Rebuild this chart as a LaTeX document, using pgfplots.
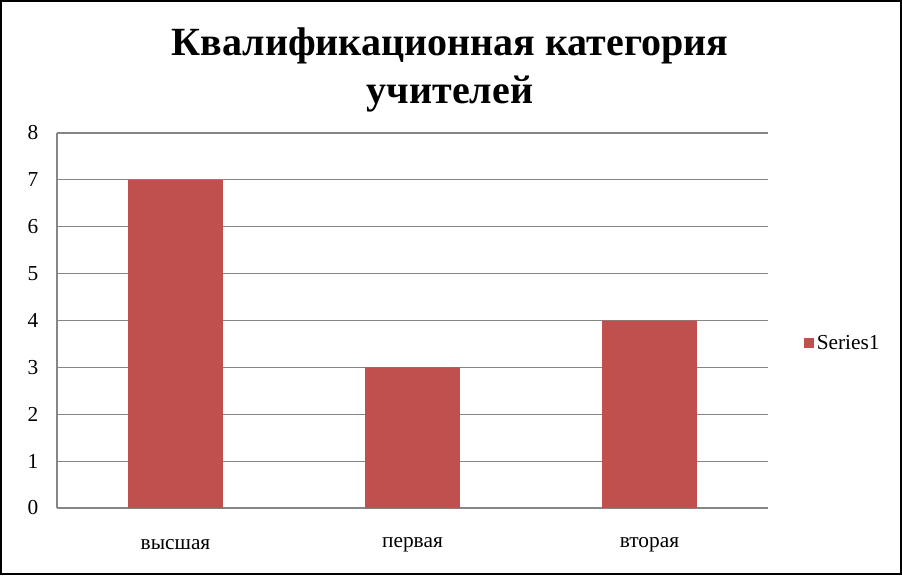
\documentclass[border=0pt]{standalone}
\usepackage{pgfplots}
\pgfplotsset{compat=1.18}
\usepackage{fontspec}
\setmainfont{Liberation Serif}
\definecolor{barred}{HTML}{C0504D}
\definecolor{gridgray}{HTML}{868686}
\begin{document}
\begin{tikzpicture}
\begin{scope}[x=0.75pt,y=0.75pt,shift={(-42.75pt,-50.25pt)}]
\useasboundingbox (0,0) rectangle (902,575);
\fill[white] (0,0) rectangle (902,575);
\end{scope}
\begin{axis}[
  scale only axis,
  width=533.25pt, height=281.25pt,
  xmin=-0.5, xmax=2.5, ymin=0, ymax=8,
  ytick={0,1,...,8},
  xtick={0,1,2},
  xticklabels={высшая, первая, вторая},
  ybar, bar width=0.4,
  axis x line*=bottom, axis y line*=left,
  axis line style={gridgray, line width=0.9pt},
  ymajorgrids, grid style={gridgray, line width=0.9pt},
  major tick length=0pt,
  tick style={draw=none},
  /pgf/number format/assume math mode=true,
  yticklabel style={font=\fontsize{16}{18}\selectfont, anchor=center, xshift=-18pt},
  xticklabel style={font=\fontsize{16}{18}\selectfont, anchor=center, yshift=-27.75pt},
  legend style={at={(rel axis cs:1.045,0.44)}, anchor=west, draw=none, fill=none,
    font=\fontsize{16}{18}\selectfont},
  legend image code/.code={\fill[barred] (0cm,-0.13cm) rectangle (0.26cm,0.13cm);},
  clip=false,
]
\addplot[fill=barred, draw=none] coordinates {(0,7) (1,3) (2,4)};
\addlegendentry{Series1}
\end{axis}
\begin{scope}[x=0.75pt,y=0.75pt,shift={(-42.75pt,-50.25pt)}]
\node[align=center, font=\bfseries\fontsize{30}{30}\selectfont, anchor=center] at (450,505) {Квалификационная категория\\[6pt]учителей};
\draw[line width=1.5pt] (1,1) rectangle (901,574);
\end{scope}
\end{tikzpicture}
\end{document}
